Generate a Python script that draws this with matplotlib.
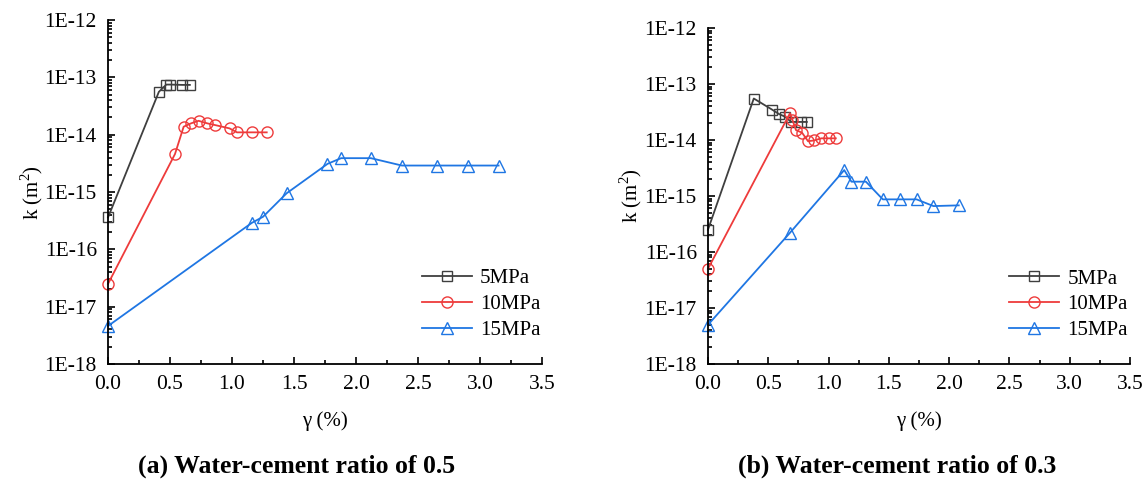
import numpy as np
import matplotlib
matplotlib.use('Agg')
import matplotlib.pyplot as plt
from matplotlib.ticker import LogLocator, MultipleLocator, FuncFormatter, NullFormatter

plt.rcParams['font.family'] = ['Liberation Serif', 'DejaVu Serif']
plt.rcParams['mathtext.fontset'] = 'custom'
plt.rcParams['mathtext.rm'] = 'Liberation Serif'

# (a) water-cement ratio 0.5
a_x_5 = [0.0, 0.41, 0.47, 0.50, 0.60, 0.66]
a_k_5 = [3.6e-16, 5.6e-14, 7.5e-14, 7.5e-14, 7.4e-14, 7.4e-14]
a_x_10 = [0.0, 0.54, 0.61, 0.67, 0.73, 0.80, 0.86, 0.98, 1.04, 1.16, 1.28]
a_k_10 = [2.5e-17, 4.6e-15, 1.38e-14, 1.58e-14, 1.75e-14, 1.58e-14, 1.48e-14,
          1.29e-14, 1.1e-14, 1.1e-14, 1.1e-14]
a_x_15 = [0.0, 1.16, 1.25, 1.44, 1.77, 1.88, 2.12, 2.37, 2.65, 2.90, 3.15]
a_k_15 = [4.6e-18, 2.9e-16, 3.7e-16, 9.5e-16, 3.1e-15, 3.9e-15, 3.9e-15,
          2.9e-15, 2.9e-15, 2.9e-15, 2.9e-15]

# (b) water-cement ratio 0.3
b_x_5 = [0.0, 0.38, 0.53, 0.59, 0.64, 0.69, 0.77, 0.82]
b_k_5 = [2.5e-16, 5.5e-14, 3.5e-14, 2.9e-14, 2.6e-14, 2.1e-14, 2.1e-14, 2.1e-14]
b_x_10 = [0.0, 0.68, 0.70, 0.73, 0.78, 0.83, 0.88, 0.94, 1.0, 1.06]
b_k_10 = [5.0e-17, 3.0e-14, 2.3e-14, 1.5e-14, 1.35e-14, 9.5e-15, 9.8e-15,
          1.07e-14, 1.07e-14, 1.07e-14]
b_x_15 = [0.0, 0.68, 1.13, 1.19, 1.31, 1.45, 1.59, 1.73, 1.87, 2.08]
b_k_15 = [5.0e-18, 2.2e-16, 2.9e-15, 1.8e-15, 1.8e-15, 8.7e-16, 8.7e-16,
          8.7e-16, 6.6e-16, 6.8e-16]

labels = ['5MPa', '10MPa', '15MPa']
colors = ['#3f3f3f', '#ee3b3b', '#1f76e3']
markers = ['s', 'o', '^']
msizes = [7, 8, 9]

fig = plt.figure(figsize=(11.48, 4.83), dpi=100)
ax1 = fig.add_axes([0.0941, 0.2464, 0.378, 0.712])
ax2 = fig.add_axes([0.6167, 0.2464, 0.3676, 0.6957])

panels = [
    (ax1, [(a_x_5, a_k_5), (a_x_10, a_k_10), (a_x_15, a_k_15)],
     '(a) Water-cement ratio of 0.5', 0.2587),
    (ax2, [(b_x_5, b_k_5), (b_x_10, b_k_10), (b_x_15, b_k_15)],
     '(b) Water-cement ratio of 0.3', 0.7814),
]

for ax, series, title, tx in panels:
    for (x, k), lab, c, m, ms in zip(series, labels, colors, markers, msizes):
        ax.plot(x, k, color=c, marker=m, markersize=ms, markerfacecolor='none',
                markeredgewidth=1.0, linewidth=1.3, label=lab, clip_on=False)
    ax.set_yscale('log')
    ax.set_ylim(1e-18, 1e-12)
    ax.set_xlim(0, 3.5)
    ax.xaxis.set_major_locator(MultipleLocator(0.5))
    ax.xaxis.set_minor_locator(MultipleLocator(0.25))
    ax.xaxis.set_major_formatter(FuncFormatter(lambda v, p: f'{v:.1f}'))
    ax.yaxis.set_major_locator(LogLocator(base=10, numticks=10))
    ax.yaxis.set_minor_locator(LogLocator(base=10, subs=np.arange(2, 10), numticks=20))
    ax.yaxis.set_minor_formatter(NullFormatter())
    ax.yaxis.set_major_formatter(FuncFormatter(lambda v, p: f'1E{int(round(np.log10(v)))}'))
    ax.tick_params(which='both', direction='in', labelsize=15.5, width=1.2)
    ax.tick_params(which='major', length=5, pad=8)
    ax.tick_params(which='minor', length=3)
    ax.spines['top'].set_visible(False)
    ax.spines['right'].set_visible(False)
    ax.spines['left'].set_linewidth(1.3)
    ax.spines['bottom'].set_linewidth(1.3)
    ax.set_xlabel('γ (%)', fontsize=15)
    ax.set_ylabel(r'k (m$^\mathregular{2}$)', fontsize=15)
    ax.legend(loc='lower right', bbox_to_anchor=(1.03, 0.027), frameon=False,
              fontsize=15, handlelength=2.4, labelspacing=0.3, handletextpad=0.4,
              borderpad=0.2)
    fig.text(tx, 0.035, title, ha='center', va='center',
             fontsize=18.5, fontweight='bold')

ax1.xaxis.set_label_coords(0.5, -0.137)
ax2.xaxis.set_label_coords(0.5, -0.14)
ax1.yaxis.set_label_coords(-0.145, 0.5)
ax2.yaxis.set_label_coords(-0.152, 0.5)

fig.savefig('out.png', dpi=100)
